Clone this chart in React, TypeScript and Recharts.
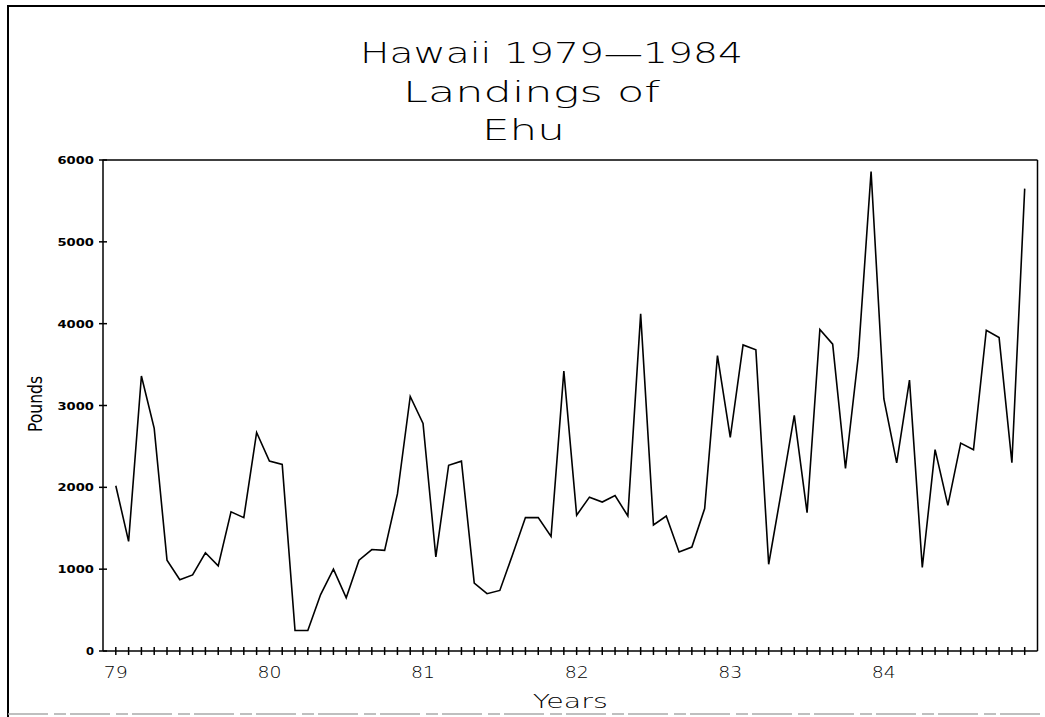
import { LineChart, Line, XAxis, YAxis } from "recharts";

const yearLabels = ["79", "80", "81", "82", "83", "84"];

// monthly landings (pounds), Jan..Dec
const landings1979 = [2020, 1340, 3360, 2720, 1110, 870, 930, 1200, 1040, 1700, 1630, 2670];
const landings1980 = [2320, 2280, 250, 250, 690, 1000, 650, 1110, 1240, 1230, 1920, 3110];
const landings1981 = [2780, 1150, 2270, 2320, 830, 700, 740, 1180, 1630, 1630, 1400, 3420];
const landings1982 = [1660, 1880, 1820, 1900, 1650, 4120, 1540, 1650, 1210, 1270, 1740, 3610];
const landings1983 = [2610, 3740, 3680, 1060, 1960, 2880, 1690, 3930, 3750, 2230, 3600, 5860];
const landings1984 = [3080, 2300, 3310, 1020, 2460, 1780, 2540, 2460, 3920, 3830, 2300, 5650];

const poundTicks = [0, 1000, 2000, 3000, 4000, 5000, 6000];
const titleLines = ["Hawaii 1979\u20141984", "Landings of", "Ehu"];

const byYear = [landings1979, landings1980, landings1981, landings1982, landings1983, landings1984];
const data = byYear.flatMap((vals, y) =>
  vals.map((pounds, m) => ({ month: y * 12 + m, pounds }))
);
const monthTicks = data.map((d) => d.month);

const plotFont = "'DejaVu Sans', sans-serif";

const MonthTick = (props: any) => {
  const { x, y, payload } = props;
  const idx = payload.value as number;
  const label = idx % 12 === 0 ? yearLabels[idx / 12] : null;
  return (
    <g>
      <line x1={x} x2={x} y1={y - 4} y2={y + 4} stroke="#000" strokeWidth={1.5} />
      {label && (
        <text
          x={x}
          y={y + 27}
          textAnchor="middle"
          fontFamily={plotFont}
          fontWeight={300}
          fontSize={15}
          textLength={24}
          lengthAdjust="spacingAndGlyphs"
          fill="#000"
        >
          {label}
        </text>
      )}
    </g>
  );
};

const PoundTick = (props: any) => {
  const { x, y, payload } = props;
  const s = String(payload.value);
  return (
    <g>
      <line x1={x - 4} x2={x + 4} y1={y} y2={y} stroke="#000" strokeWidth={1.5} />
      <text
        x={x - 9}
        y={y + 4}
        textAnchor="end"
        fontFamily={plotFont}
        fontWeight={700}
        fontSize={11}
        textLength={s.length * 9.5 - 1.5}
        lengthAdjust="spacingAndGlyphs"
        fill="#000"
      >
        {s}
      </text>
    </g>
  );
};

export default function App() {
  return (
    <div
      style={{
        position: "fixed",
        left: 0,
        top: 0,
        width: 1045,
        height: 717,
        overflow: "hidden",
        background: "#fff",
      }}
    >
      <LineChart
        width={1045}
        height={717}
        data={data}
        margin={{ top: 160, right: 7.5, bottom: 0, left: 0 }}
        style={{ position: "absolute", left: 0, top: 0 }}
      >
        <XAxis
          dataKey="month"
          type="number"
          domain={[-1, 72]}
          ticks={monthTicks}
          interval={0}
          height={66}
          tickSize={0}
          tickMargin={0}
          tickLine={false}
          axisLine={{ stroke: "#000", strokeWidth: 1.5 }}
          tick={MonthTick}
          label={(lp: any) => {
            const vb = lp.viewBox;
            return (
              <text
                x={vb.x + vb.width / 2}
                y={708}
                textAnchor="middle"
                fontFamily={plotFont}
                fontWeight={300}
                fontSize={20}
                textLength={75}
                lengthAdjust="spacingAndGlyphs"
                fill="#000"
              >
                Years
              </text>
            );
          }}
        />
        <YAxis
          type="number"
          domain={[0, 6000]}
          ticks={poundTicks}
          interval={0}
          width={103}
          tickSize={0}
          tickMargin={0}
          tickLine={false}
          axisLine={{ stroke: "#000", strokeWidth: 1.5 }}
          tick={PoundTick}
          label={() => (
            <text
              x={35}
              y={404}
              transform="rotate(-90, 35, 404)"
              textAnchor="middle"
              dominantBaseline="central"
              fontFamily={plotFont}
              fontSize={20}
              textLength={56}
              lengthAdjust="spacingAndGlyphs"
              fill="#000"
            >
              Pounds
            </text>
          )}
        />
        <Line
          type="linear"
          dataKey="pounds"
          stroke="#000"
          strokeWidth={1.6}
          dot={false}
          isAnimationActive={false}
        />
      </LineChart>

      {/* title and frames drawn on top of the chart */}
      <svg
        width={1045}
        height={717}
        style={{ position: "absolute", left: 0, top: 0, pointerEvents: "none" }}
      >
        <line x1={8} x2={8} y1={5} y2={717} stroke="#000" strokeWidth={2} />
        <line x1={7} x2={1045} y1={6} y2={6} stroke="#000" strokeWidth={2} />
        <line x1={8} x2={1045} y1={714} y2={714} stroke="#aaa" strokeWidth={1.5} strokeDasharray="40 6 12 4" />
        <line x1={102.5} x2={1037.5} y1={160} y2={160} stroke="#000" strokeWidth={1.5} />
        <line x1={1037.5} x2={1037.5} y1={160} y2={651} stroke="#000" strokeWidth={1.5} />
        {[
          { x: 360, y: 63, w: 383 },
          { x: 403, y: 102, w: 257 },
          { x: 482, y: 140, w: 83 },
        ].map((p, i) => (
          <text
            key={i}
            x={p.x}
            y={p.y}
            textLength={p.w}
            lengthAdjust="spacingAndGlyphs"
            fontFamily={plotFont}
            fontWeight={300}
            fontSize={29}
            fill="#000"
          >
            {titleLines[i]}
          </text>
        ))}
      </svg>
    </div>
  );
}
